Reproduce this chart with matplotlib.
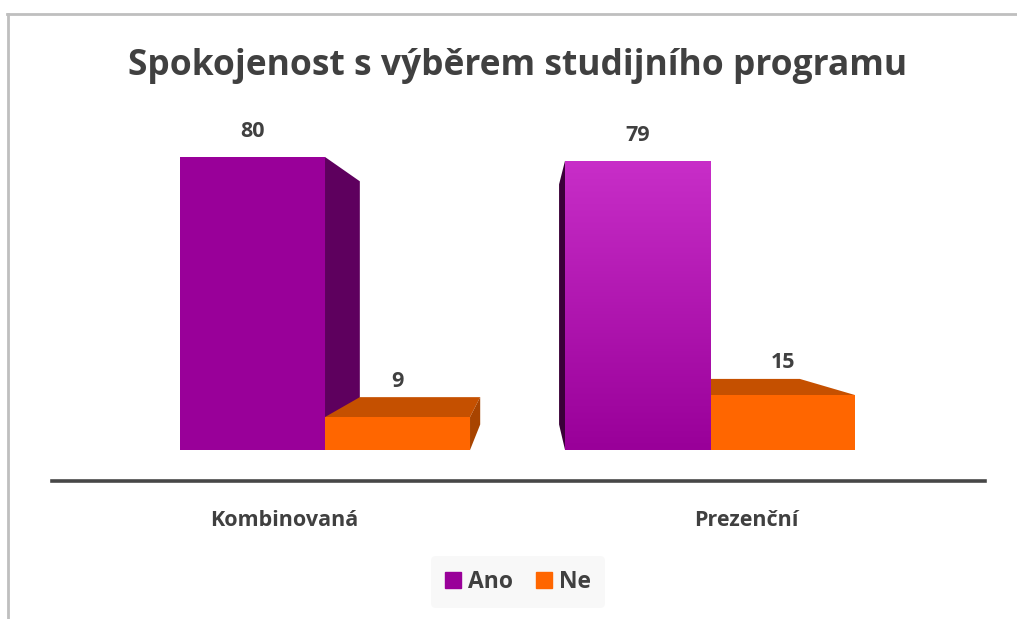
import numpy as np
import matplotlib
matplotlib.use("Agg")
import matplotlib.pyplot as plt
from matplotlib.patches import Polygon, Rectangle
from matplotlib.lines import Line2D

plt.rcParams['font.family'] = ['Open Sans', 'DejaVu Sans']

# data
categories = ['Kombinovaná', 'Prezenční']
series = ['Ano', 'Ne']
ano = [80, 79]
ne = [9, 15]
title = 'Spokojenost s výběrem studijního programu'

front_colors = {'Ano': '#990099', 'Ne': '#FF6600'}
top_colors = {'Ano': '#7a007a', 'Ne': '#C55000'}
side_colors = {'Ano': '#5E005E', 'Ne': '#A84400'}
text_col = '#404040'

fig = plt.figure(figsize=(10.17, 6.19), dpi=100)
ax = fig.add_axes([52 / 1017, (619 - 481) / 619, (985 - 52) / 1017, (481 - 100) / 619])
ax.set_xlim(-0.709, 1.714)
ax.set_ylim(-8.46, 95.56)
for s in ['top', 'right', 'left']:
    ax.spines[s].set_visible(False)
ax.spines['bottom'].set_color('#474747')
ax.spines['bottom'].set_linewidth(2.6)
ax.set_xticks([])
ax.set_yticks([])

x = np.arange(len(categories))
w = 0.3766
vp = (0.532, 40.96)   # vanishing point (data coords)
k = 0.17              # depth


def back(px, py):
    return px + (vp[0] - px) * k, py + (vp[1] - py) * k


bars = []
for i in range(len(categories)):
    bars.append((x[i] - w, ano[i], 'Ano', i))
    bars.append((x[i], ne[i], 'Ne', i))

# draw the far bars first
bars.sort(key=lambda b: -abs(b[0] + w / 2 - vp[0]))

for x0, h, name, i in bars:
    x1 = x0 + w
    if h < vp[1]:
        pts = [(x0, h), (x1, h), back(x1, h), back(x0, h)]
        ax.add_patch(Polygon(pts, closed=True, fc=top_colors[name], ec='none', zorder=2))
    if x1 < vp[0]:
        pts = [(x1, 0), (x1, h), back(x1, h), back(x1, 0)]
        ax.add_patch(Polygon(pts, closed=True, fc=side_colors[name], ec='none', zorder=2))
    if x0 > vp[0]:
        sc = '#3A0038' if name == 'Ano' else side_colors[name]
        pts = [(x0, 0), (x0, h), back(x0, h), back(x0, 0)]
        ax.add_patch(Polygon(pts, closed=True, fc=sc, ec='none', zorder=2))
    rect = Rectangle((x0, 0), w, h, fc=front_colors[name], ec='none', zorder=2)
    ax.add_patch(rect)
    if name == 'Ano' and i == 1:
        # gradient face on the second purple bar
        grad = np.linspace(0, 1, 256).reshape(-1, 1)
        cmap = matplotlib.colors.LinearSegmentedColormap.from_list('g', ['#990099', '#C82EC8'])
        im = ax.imshow(grad, cmap=cmap, extent=(x0, x1, 0, h), origin='lower',
                       aspect='auto', zorder=2.1)
        im.set_clip_path(rect)
    top_y = max(h, back(x0, h)[1])
    off = 16 if h < vp[1] else 25
    ax.annotate(str(h), (x0 + w / 2, top_y), xytext=(0, off), textcoords='offset pixels',
                ha='center', va='center', fontsize=15.5, fontweight='bold', color=text_col,
                zorder=5)

# category labels on the floor edge
for i, c in enumerate(categories):
    lx = x[i] + (x[i] - vp[0]) * 0.2
    ax.text(lx, -8.46 - 39 / 3.6625, c, ha='center', va='center', fontsize=15.5,
            fontweight='bold', color=text_col)

ax.set_autoscale_on(False)

fig.text(518 / 1017, 1 - 66 / 619, title, ha='center', va='center', fontsize=25.5,
         fontweight='bold', color=text_col)

# legend
handles = [Line2D([], [], marker='s', ls='none', markersize=12,
                  markerfacecolor=front_colors[s], markeredgecolor=front_colors[s]) for s in series]
leg = fig.legend(handles, series, loc='center', bbox_to_anchor=(518 / 1017, 1 - 582 / 619),
                 ncol=2, frameon=True, fontsize=16.5, handlelength=0.7, handletextpad=0.3,
                 columnspacing=1.0, borderpad=0.6)
leg.get_frame().set_facecolor('#F7F7F7')
leg.get_frame().set_edgecolor('none')
for t in leg.get_texts():
    t.set_fontweight('bold')
    t.set_color(text_col)

# outer border (top and left)
fig.add_artist(Line2D([7 / 1017, 1], [1 - 13.5 / 619] * 2, color='#BFBFBF', lw=2))
fig.add_artist(Line2D([8 / 1017] * 2, [0, 1 - 13.5 / 619], color='#BFBFBF', lw=2))

fig.savefig('out.png', dpi=100)
